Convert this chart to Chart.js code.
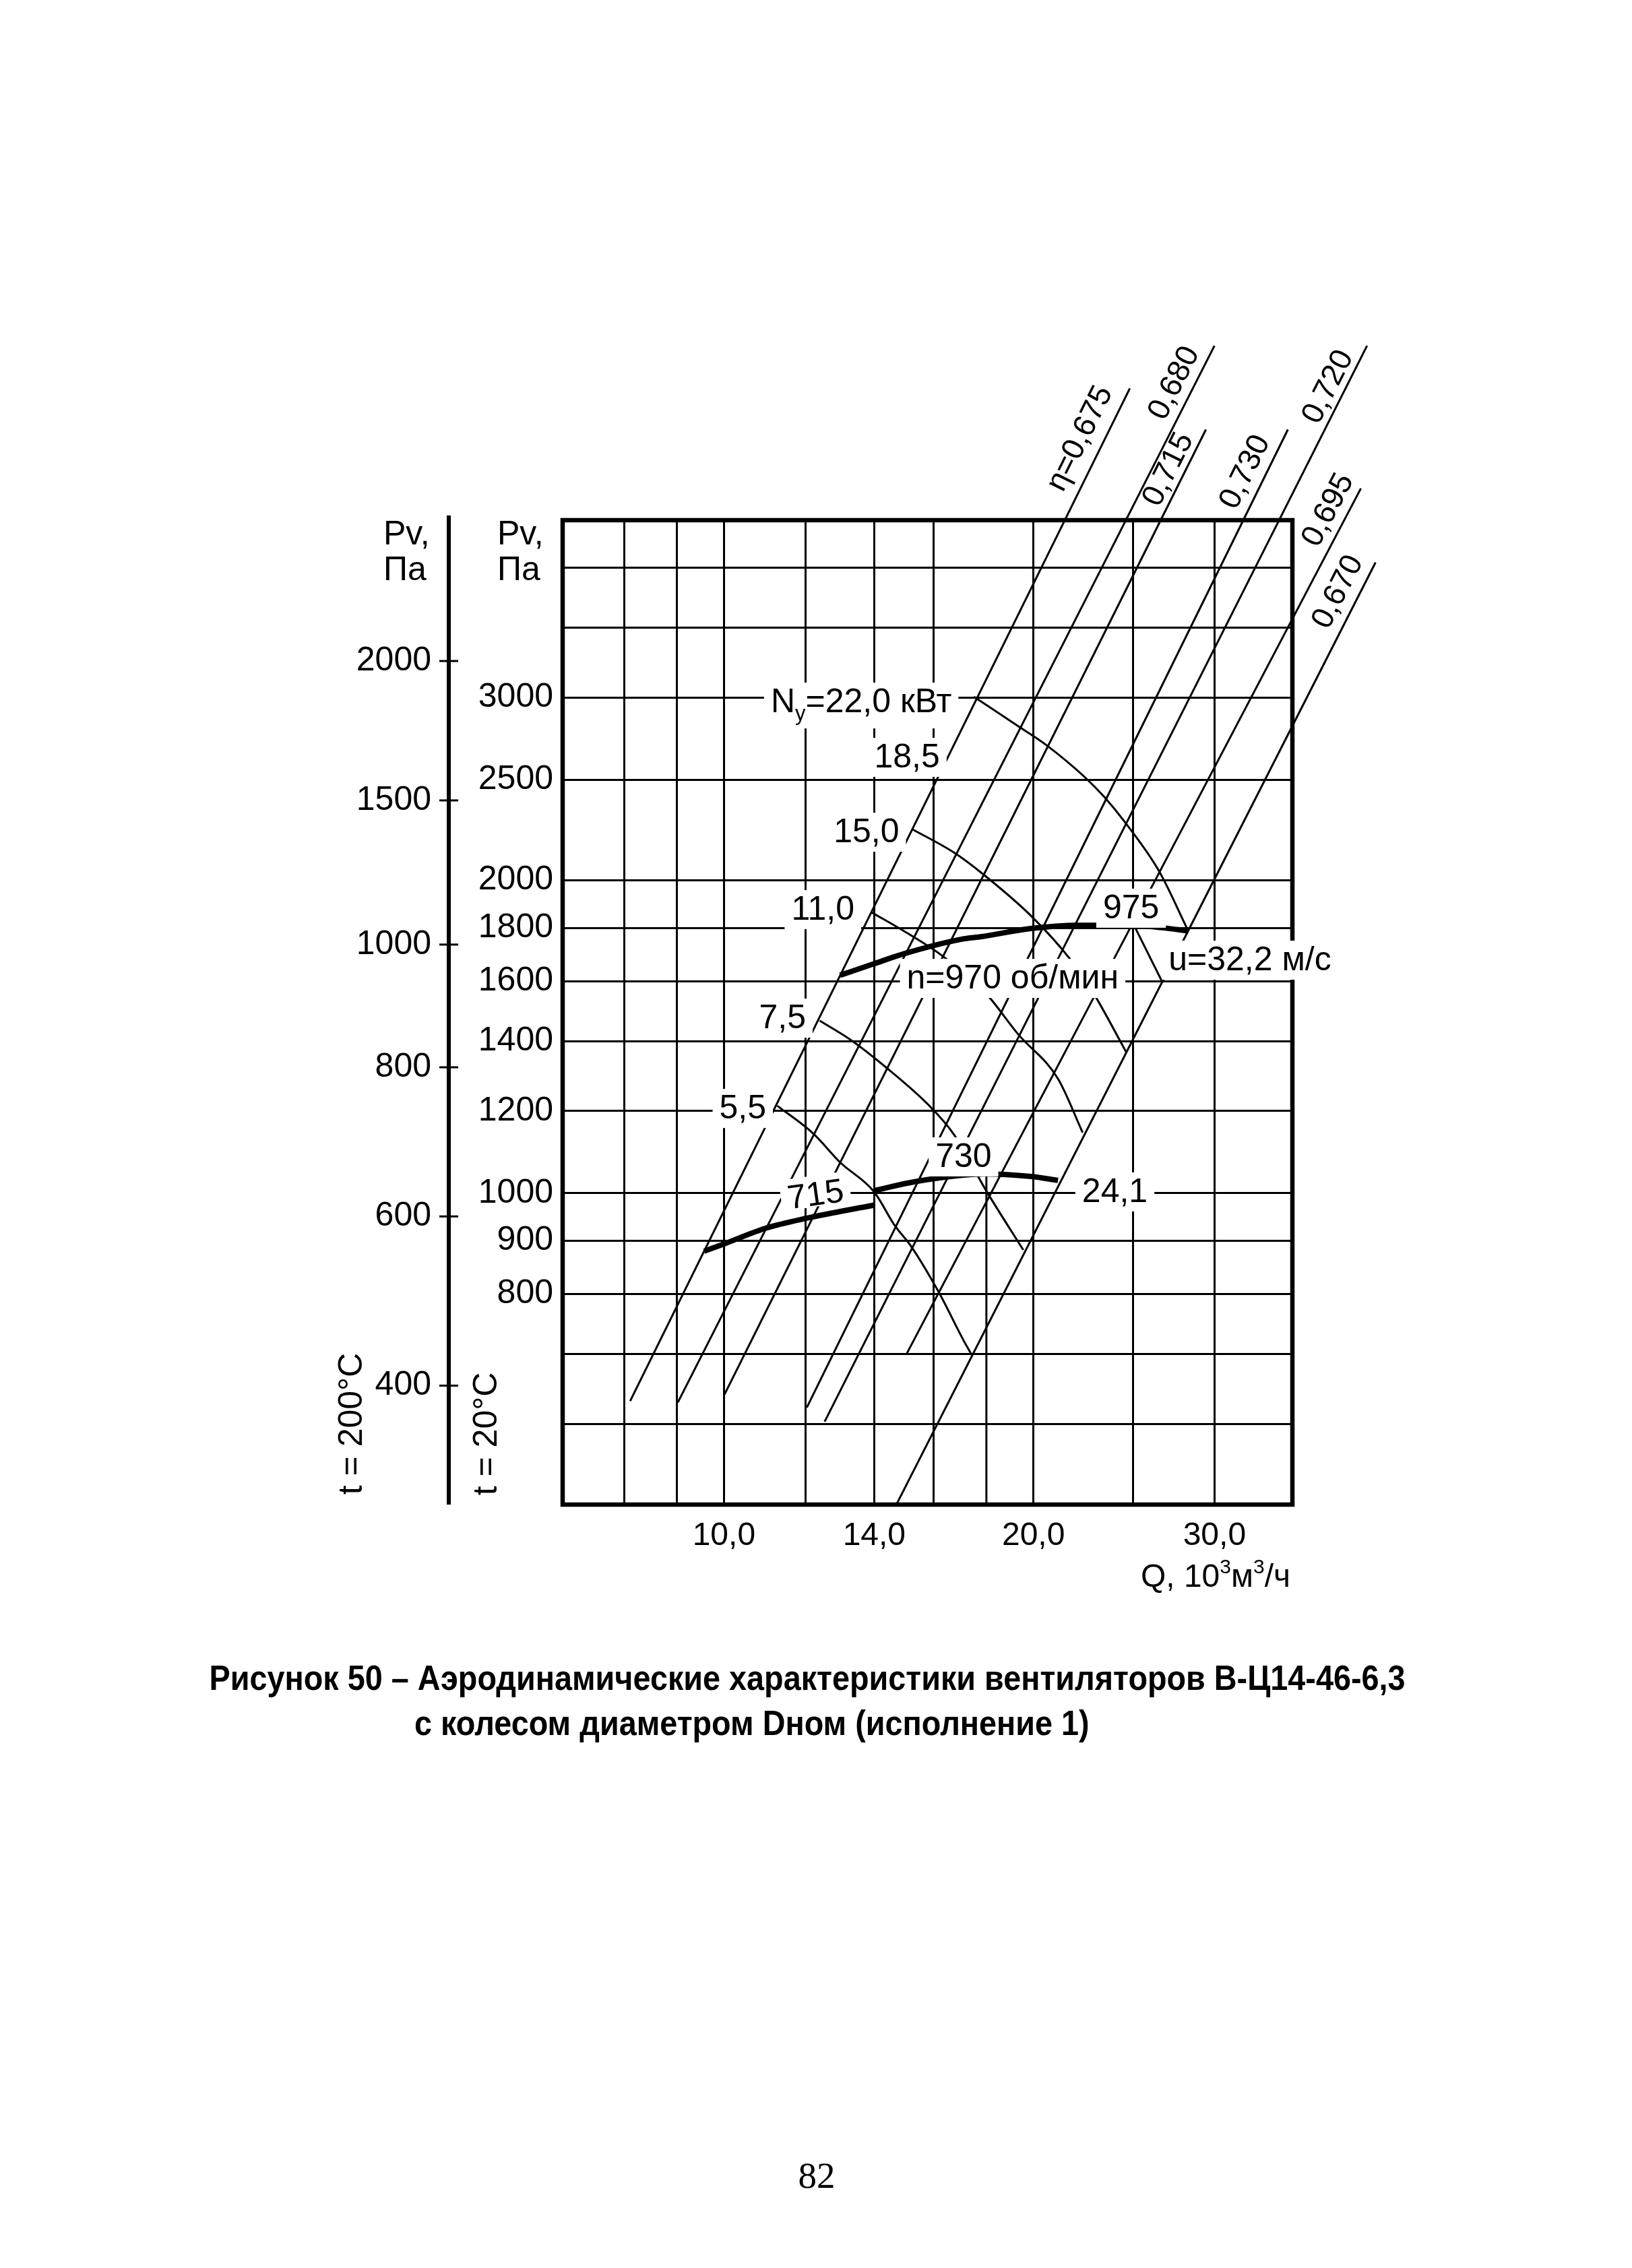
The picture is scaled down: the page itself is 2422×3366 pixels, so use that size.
<!DOCTYPE html>
<html><head><meta charset="utf-8">
<script src="https://cdn.jsdelivr.net/npm/chart.js@4.4.1/dist/chart.umd.min.js"></script>
<style>html,body{margin:0;padding:0;background:#fff;}canvas{display:block;}</style>
</head><body>
<canvas id="c" width="2422" height="3366" style="width:2422px;height:3366px"></canvas>
<script>
// ---------- axes / ticks ----------
const qGridValues = [8, 9, 10, 12, 14, 16, 20, 25, 30];
const qLabelValues = [10, 14, 20, 30];
const qLabelTexts = ['10,0', '14,0', '20,0', '30,0'];
const pGridValues = [600, 700, 800, 900, 1000, 1200, 1400, 1600, 1800, 2000, 2500, 3000, 3500, 4000];
const pLabelValues = [800, 900, 1000, 1200, 1400, 1600, 1800, 2000, 2500, 3000];
const p200Labels = [2000, 1500, 1000, 800, 600, 400];      // t = 200°C scale labels
const p200At20 = [3252, 2388, 1735, 1322, 950, 653];       // same levels read on the 20°C scale
const qMin = 6.968, qMax = 35.72, pMin = 501.7, pMax = 4443;

// ---------- thick characteristic curves ----------
const n975Q = [12.97, 13.95, 14.99, 17.03, 17.82, 19.89, 22.07, 25.05, 26.69, 28.29];
const n975P = [1621, 1661, 1701, 1756, 1766, 1798, 1811, 1811, 1801, 1788];
const n715Q = [9.566, 10.01, 10.97, 12.04, 14.0];
const n715P = [879.5, 894.1, 925.3, 946.3, 974.2];
const n730Q = [14.0, 15.34, 17.10, 17.92, 19.89, 21.13];
const n730P = [1006, 1026, 1041, 1044, 1038, 1029];

// ---------- efficiency lines (eta) ----------
const etaNames = ['η=0,675', '0,680', '0,715', '0,730', '0,720', '0,695', '0,670'];
const etaBotQ = [8.105, 9.019, 10.01, 12.04, 12.53, 15.04, 14.74];
const etaBotP = [631.0, 629.1, 640.0, 622.1, 602.9, 699.2, 503.5];
const etaTopQ = [24.82, 30.0, 29.43, 35.36, 42.22, 41.64, 43.03];
const etaTopP = [5950, 6539, 5431, 5431, 6539, 4767, 4046];
const etaLabelQ = [22.21, 27.43, 27.07, 32.15, 38.72, 38.72, 39.58];
const etaLabelP = [5322, 6019, 4970, 4942, 5967, 4543, 3789];

// ---------- installed power lines (kW) ----------
const pw22Q = [17.50, 19.33, 20.59, 22.46, 23.44, 24.57, 26.48, 28.29];
const pw22P = [3005, 2815, 2699, 2512, 2406, 2273, 2044, 1788];
const pw185Q = [25.05, 26.69];
const pw185P = [1811, 1597];
const pw15Q = [15.25, 16.73, 17.82, 19.95, 21.69, 22.92, 24.63];
const pw15P = [2240, 2128, 2032, 1844, 1682, 1553, 1366];
const pw11Q = [13.91, 14.99, 16.26, 17.98, 19.33, 21.13, 22.33];
const pw11P = [1864, 1786, 1696, 1557, 1422, 1289, 1144];
const pw75Q = [12.39, 13.28, 14.36, 15.84, 16.74, 18.0, 19.55];
const pw75P = [1466, 1405, 1323, 1214, 1139, 1005, 882];
const pw55Q = [11.27, 12.22, 12.97, 14.0, 14.65, 15.21, 16.17, 17.10, 17.42];
const pw55P = [1214, 1141, 1071, 1003, 932, 889, 804, 722, 699];
const q18GridQ = [18, 18];
const q18GridP = [1050, pMin];

// ---------- annotations ----------
const noteTexts = ['N_{y}=22,0 кВт', '18,5', '15,0', '11,0', '7,5', '5,5', '715', '730', '975', 'n=970 об/мин', 'u=32,2 м/с', '24,1'];
const noteQ = [13.60, 15.07, 13.76, 12.48, 11.40, 10.43, 12.32, 17.10, 24.89, 19.09, 32.48, 24.0];
const noteP = [2903, 2569, 2176, 1833, 1441.5, 1180, 974, 1060, 1839, 1574, 1639, 980.8];

const captionLine1 = 'Рисунок 50 – Аэродинамические характеристики вентиляторов В-Ц14-46-6,3';
const captionLine2 = 'с колесом диаметром Dном (исполнение 1)';
const pageNumber = '82';

// ---------- styling (kept apart from the data) ----------
const FONT = "'Liberation Sans', Arial, Helvetica, sans-serif";
const noteStyle = { '715': { angle: -8, padBottom: 2 } };
Chart.defaults.font.family = FONT;
Chart.defaults.color = '#000';

function pts(qs, ps) { return qs.map((q, i) => ({ x: q, y: ps[i] })); }
const datasets = [];
function addLine(qs, ps, w, smooth) {
  datasets.push({
    data: pts(qs, ps), borderColor: '#000', borderWidth: w, pointRadius: 0, fill: false,
    clip: false, tension: smooth ? 0.4 : 0, cubicInterpolationMode: smooth ? 'monotone' : 'default',
    borderJoinStyle: 'round'
  });
}
addLine(q18GridQ, q18GridP, 3, false);
for (let i = 0; i < etaNames.length; i++) addLine([etaBotQ[i], etaTopQ[i]], [etaBotP[i], etaTopP[i]], 3, false);
addLine(pw22Q, pw22P, 3, true);
addLine(pw185Q, pw185P, 3, false);
addLine(pw15Q, pw15P, 3, true);
addLine(pw11Q, pw11P, 3, true);
addLine(pw75Q, pw75P, 3, true);
addLine(pw55Q, pw55P, 3, true);
addLine(n975Q, n975P, 8, true);
addLine(n715Q, n715P, 8, true);
addLine(n730Q, n730P, 8, true);

function parseRich(text) {
  const segs = []; const re = /([_^])\{([^}]*)\}/g; let last = 0, m;
  while ((m = re.exec(text)) !== null) {
    if (m.index > last) segs.push({ t: text.slice(last, m.index), k: 0 });
    segs.push({ t: m[2], k: m[1] === '_' ? 1 : 2 });
    last = re.lastIndex;
  }
  if (last < text.length) segs.push({ t: text.slice(last), k: 0 });
  return segs;
}
function fontFor(k, size, weight) { return (weight || '') + ' ' + (k ? Math.round(size * 0.62) : size) + 'px ' + FONT; }
function measureRich(c, text, size, weight) {
  let total = 0;
  parseRich(text).forEach(s => { c.font = fontFor(s.k, size, weight); total += c.measureText(s.t).width; });
  return total;
}
function drawRich(c, text, x, y, size, align, weight) {
  const segs = parseRich(text);
  let total = 0;
  segs.forEach(s => { c.font = fontFor(s.k, size, weight); s.w = c.measureText(s.t).width; total += s.w; });
  let cx = align === 'center' ? x - total / 2 : align === 'right' ? x - total : x;
  c.textAlign = 'left'; c.textBaseline = 'alphabetic';
  segs.forEach(s => {
    c.font = fontFor(s.k, size, weight);
    const dy = s.k === 1 ? size * 0.24 : s.k === 2 ? -size * 0.42 : 0;
    c.fillText(s.t, cx, y + dy); cx += s.w;
  });
  return total;
}

const overlay = {
  id: 'overlay',
  beforeDraw(chart) {
    const c = chart.ctx; c.save(); c.fillStyle = '#fff'; c.fillRect(0, 0, chart.width, chart.height); c.restore();
  },
  afterDraw(chart) {
    const c = chart.ctx, a = chart.chartArea, xs = chart.scales.x, ys = chart.scales.y, y2 = chart.scales.y2;
    c.save();
    c.strokeStyle = '#000'; c.fillStyle = '#000';
    // frame
    c.lineWidth = 6.5;
    c.strokeRect(a.left, a.top, a.right - a.left, a.bottom - a.top);
    // t = 200°C axis line and ticks
    const ax = y2.right;
    c.lineWidth = 6;
    c.beginPath(); c.moveTo(ax, a.top - 7); c.lineTo(ax, a.bottom); c.stroke();
    c.lineWidth = 3;
    p200At20.forEach(v => {
      const py = y2.getPixelForValue(v);
      c.beginPath(); c.moveTo(ax - 14, py); c.lineTo(ax + 14, py); c.stroke();
    });
    // annotations with white boxes
    const NS = 50;
    for (let i = 0; i < noteTexts.length; i++) {
      const st = noteStyle[noteTexts[i]] || {};
      const px = xs.getPixelForValue(noteQ[i]), py = ys.getPixelForValue(noteP[i]);
      c.save();
      c.translate(px, py); c.rotate((st.angle || 0) * Math.PI / 180);
      const w = measureRich(c, noteTexts[i], NS);
      const hasSub = noteTexts[i].indexOf('_{') >= 0;
      const padB = st.padBottom !== undefined ? st.padBottom : (hasSub ? 24 : 14);
      c.fillStyle = '#fff';
      c.fillRect(-w / 2 - 10, -NS * 0.88, w + 20, NS * 0.88 + padB);
      c.fillStyle = '#000';
      drawRich(c, noteTexts[i], 0, 0, NS, 'center');
      c.restore();
    }
    // eta labels along their lines
    c.font = '46px ' + FONT; c.textAlign = 'center'; c.textBaseline = 'middle';
    for (let i = 0; i < etaNames.length; i++) {
      const x0 = xs.getPixelForValue(etaBotQ[i]), y0 = ys.getPixelForValue(etaBotP[i]);
      const x1 = xs.getPixelForValue(etaTopQ[i]), y1 = ys.getPixelForValue(etaTopP[i]);
      const ang = Math.atan2(y1 - y0, x1 - x0);
      const px = xs.getPixelForValue(etaLabelQ[i]), py = ys.getPixelForValue(etaLabelP[i]);
      c.save(); c.translate(px, py); c.rotate(ang); c.fillText(etaNames[i], 0, 0); c.restore();
    }
    // axis titles
    c.font = '50px ' + FONT; c.textAlign = 'left'; c.textBaseline = 'alphabetic';
    c.fillText('Pv,', 569, 808); c.fillText('Па', 569, 861);
    c.fillText('Pv,', 738, 808); c.fillText('Па', 738, 861);
    c.save(); c.translate(537, 2113); c.rotate(-Math.PI / 2); c.textAlign = 'center'; c.fillText('t = 200°C', 0, 0); c.restore();
    c.save(); c.translate(737, 2128); c.rotate(-Math.PI / 2); c.textAlign = 'center'; c.fillText('t = 20°C', 0, 0); c.restore();
    drawRich(c, 'Q, 10^{3}м^{3}/ч', 1915, 2355, 48, 'right');
    // caption
    c.font = 'bold 52px ' + FONT;
    const w1 = c.measureText(captionLine1).width;
    const sx = 1775 / w1;
    c.save(); c.translate(1198, 2508); c.scale(sx, 1); c.textAlign = 'center'; c.fillText(captionLine1, 0, 0); c.restore();
    c.save(); c.translate(615, 2575); c.scale(sx, 1); c.textAlign = 'left'; c.fillText(captionLine2, 0, 0); c.restore();
    // page number
    c.font = "55px 'Liberation Serif', 'Times New Roman', serif"; c.textAlign = 'center';
    c.fillText(pageNumber, 1212, 3247);
    c.restore();
  }
};

new Chart(document.getElementById('c'), {
  type: 'line',
  data: { datasets },
  plugins: [overlay],
  options: {
    responsive: false, maintainAspectRatio: false, devicePixelRatio: 1, animation: false,
    layout: { padding: { left: 300, top: 772, right: 504, bottom: 1033 } },
    plugins: { legend: { display: false }, tooltip: { enabled: false } },
    scales: {
      x: {
        type: 'logarithmic', position: 'bottom', min: qMin, max: qMax, bounds: 'data',
        afterBuildTicks: s => { s.ticks = qGridValues.map(v => ({ value: v })); },
        afterFit: s => { s.height = 100; },
        grid: { color: '#000', lineWidth: 3, drawTicks: false },
        border: { display: false },
        ticks: {
          autoSkip: false, maxRotation: 0, padding: 18, font: { size: 48 }, color: '#000',
          callback: v => { const i = qLabelValues.indexOf(v); return i >= 0 ? qLabelTexts[i] : ''; }
        }
      },
      y: {
        type: 'logarithmic', position: 'left', weight: 0, min: pMin, max: pMax, bounds: 'data',
        afterBuildTicks: s => { s.ticks = pGridValues.map(v => ({ value: v })); },
        afterFit: s => { s.width = 169; },
        grid: { color: '#000', lineWidth: 3, drawTicks: false },
        border: { display: false },
        ticks: {
          autoSkip: false, padding: 14, font: { size: 50 }, color: '#000',
          callback: v => pLabelValues.indexOf(v) >= 0 ? String(v) : ''
        }
      },
      y2: {
        type: 'logarithmic', position: 'left', weight: 1, min: pMin, max: pMax, bounds: 'data',
        afterBuildTicks: s => { s.ticks = p200At20.slice().sort((a, b) => a - b).map(v => ({ value: v })); },
        afterFit: s => { s.width = 366; },
        grid: { display: false, drawTicks: false },
        border: { display: false },
        ticks: {
          autoSkip: false, padding: 26, font: { size: 50 }, color: '#000',
          callback: v => { const i = p200At20.indexOf(v); return i >= 0 ? String(p200Labels[i]) : ''; }
        }
      }
    }
  }
});
</script>
</body></html>
